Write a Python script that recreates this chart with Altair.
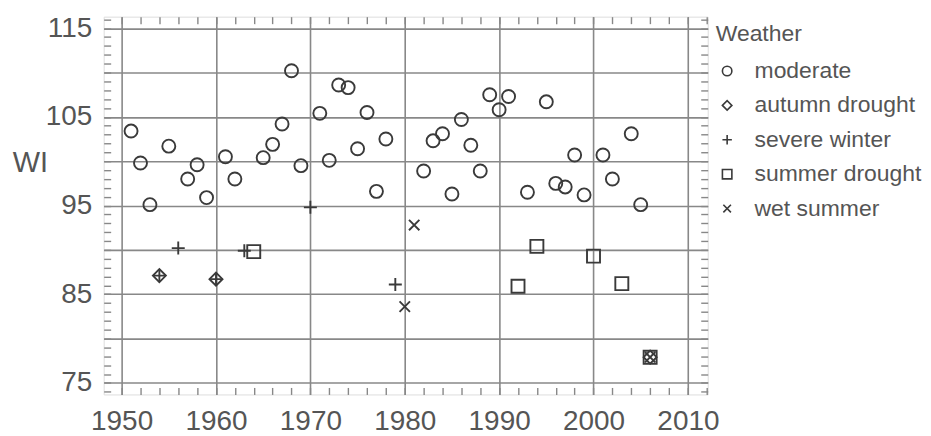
import altair as alt
import pandas as pd

# ---- data ----
moderate_years = [1951, 1952, 1953, 1955, 1957, 1958, 1959, 1961, 1962, 1965, 1966, 1967,
                  1968, 1969, 1971, 1972, 1973, 1974, 1975, 1976, 1977, 1978, 1982, 1983,
                  1984, 1985, 1986, 1987, 1988, 1989, 1990, 1991, 1993, 1995, 1996, 1997,
                  1998, 1999, 2001, 2002, 2004, 2005]
moderate_wi = [103.4, 99.8, 95.1, 101.7, 98.0, 99.6, 95.9, 100.5, 98.0, 100.4, 101.9, 104.2,
               110.2, 99.5, 105.4, 100.1, 108.6, 108.3, 101.4, 105.5, 96.6, 102.5, 98.9, 102.3,
               103.1, 96.3, 104.7, 101.8, 98.9, 107.5, 105.8, 107.3, 96.5, 106.7, 97.5, 97.1,
               100.7, 96.2, 100.7, 98.0, 103.1, 95.1]
autumn_years = [1954, 1960, 2006]
autumn_wi = [87.1, 86.7, 77.9]
severe_years = [1954, 1956, 1960, 1963, 1970, 1979]
severe_wi = [87.1, 90.2, 86.7, 89.9, 94.8, 86.1]
summer_years = [1964, 1992, 1994, 2000, 2003, 2006]
summer_wi = [89.8, 85.9, 90.4, 89.3, 86.2, 77.9]
wet_years = [1980, 1981, 2006]
wet_wi = [83.6, 92.8, 77.9]

categories = ["moderate", "autumn drought", "severe winter", "summer drought", "wet summer"]
x_labels = [1950, 1960, 1970, 1980, 1990, 2000, 2010]
y_grid = [75, 80, 85, 90, 95, 100, 105, 110, 115]

rows = []
for cat, yrs, ws in [("moderate", moderate_years, moderate_wi),
                     ("autumn drought", autumn_years, autumn_wi),
                     ("severe winter", severe_years, severe_wi),
                     ("summer drought", summer_years, summer_wi),
                     ("wet summer", wet_years, wet_wi)]:
    for y, w in zip(yrs, ws):
        rows.append({"Year": y, "WI": w, "Weather": cat})
df = pd.DataFrame(rows)

FONT = "Liberation Sans"
TXT = "#555555"
GRID = "#888888"
MARK = "#3a3a3a"

xs = alt.Scale(domain=[1948.1, 2012.1], nice=False, zero=False)
ys = alt.Scale(domain=[73.7, 116.3], nice=False, zero=False)

plus_path = "M-1,0L1,0M0,-1L0,1"
x_path = "M-0.8,-0.8L0.8,0.8M-0.8,0.8L0.8,-0.8"

points = alt.Chart(df).mark_point(filled=False, size=170, strokeWidth=1.9, color=MARK, opacity=1).encode(
    x=alt.X("Year:Q", scale=xs, axis=alt.Axis(
        orient="bottom", values=x_labels, format="d", grid=True, gridColor=GRID, gridWidth=1.6,
        ticks=False, domain=False, labelFontSize=28, labelFont=FONT, labelColor=TXT,
        labelPadding=13, labelFlush=False, labelOverlap=False, title=None)),
    y=alt.Y("WI:Q", scale=ys, axis=alt.Axis(
        orient="left", values=y_grid, format="d", grid=True, gridColor=GRID, gridWidth=1.6,
        ticks=False, domain=False, labelFontSize=28, labelFont=FONT, labelColor=TXT,
        labelPadding=12, labelFlush=False, labelOverlap=False,
        labelExpr="datum.value % 10 == 5 ? datum.label : ''",
        title="WI", titleAngle=0, titleX=-74, titleY=146, titleAlign="center",
        titleBaseline="middle", titleFontSize=29, titleFont=FONT, titleColor=TXT,
        titleFontWeight="normal")),
    shape=alt.Shape("Weather:N", scale=alt.Scale(
        domain=categories, range=["circle", "diamond", plus_path, "square", x_path]),
        legend=alt.Legend(title="Weather", orient="none", legendX=614, legendY=6,
                          titleFontSize=23, titleFont=FONT, titleColor=TXT,
                          titleFontWeight="normal", titlePadding=14,
                          labelFontSize=23, labelFont=FONT, labelColor=TXT, labelLimit=400,
                          symbolSize=90, symbolStrokeWidth=1.6, symbolStrokeColor=MARK,
                          symbolFillColor="transparent", rowPadding=10.5, labelOffset=16)),
)

minor_x = list(range(1950, 2013, 2))
minor_y = list(range(74, 117))

def minor_axis(orient, vals):
    return alt.Axis(orient=orient, values=vals, grid=False, labels=False, domain=False,
                    ticks=True, tickSize=7, tickColor=GRID, tickWidth=1.4, offset=-7,
                    title=None)

minor1 = alt.Chart(df).mark_point(opacity=0).encode(
    x=alt.X("Year:Q", scale=xs, axis=minor_axis("bottom", minor_x)),
    y=alt.Y("WI:Q", scale=ys, axis=minor_axis("left", minor_y)),
)
minor2 = alt.Chart(df).mark_point(opacity=0).encode(
    x=alt.X("Year:Q", scale=xs, axis=minor_axis("top", minor_x)),
    y=alt.Y("WI:Q", scale=ys, axis=minor_axis("right", minor_y)),
)

chart = alt.layer(minor1, minor2, points).resolve_axis(x="independent", y="independent").properties(
    width=606, height=379,
    autosize=alt.AutoSizeParams(type="none"),
    padding={"left": 96, "top": 8, "right": 216, "bottom": 41},
).configure_view(stroke=GRID, strokeWidth=2.2).configure(background="white")

chart.save("out.html", embed_options={"renderer": "svg", "actions": False})
